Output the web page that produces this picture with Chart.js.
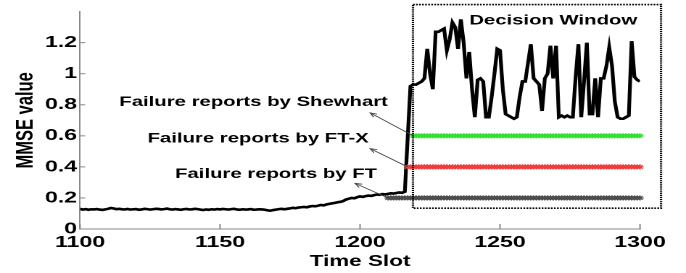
<!DOCTYPE html>
<html>
<head>
<meta charset="utf-8">
<script src="https://cdn.jsdelivr.net/npm/chart.js@4.4.0/dist/chart.umd.min.js"></script>
<style>
  body { margin: 0; background: #fff; overflow: hidden; }
  /* the original figure is stretched sideways, so draw narrow and widen it */
  #wrap { width: 473px; height: 273px; transform: scaleX(1.4503); transform-origin: 0 0; }
</style>
</head>
<body>
<div id="wrap"><canvas id="myChart" width="473" height="273"></canvas></div>
<script>
const firstSlot = 1100;
const mmse = [
  0.13,0.125,0.128,0.124,0.127,0.126,0.128,0.125,0.123,0.126,
  0.13,0.135,0.132,0.128,0.13,0.127,0.126,0.129,0.125,0.127,
  0.128,0.124,0.126,0.13,0.128,0.125,0.127,0.13,0.129,0.126,
  0.128,0.131,0.127,0.125,0.128,0.126,0.124,0.127,0.129,0.126,
  0.127,0.13,0.128,0.125,0.122,0.126,0.124,0.127,0.125,0.128,
  0.126,0.129,0.127,0.125,0.128,0.13,0.126,0.124,0.127,0.125,
  0.126,0.128,0.124,0.125,0.127,0.126,0.124,0.12,0.118,0.122,
  0.125,0.128,0.13,0.127,0.13,0.133,0.136,0.134,0.138,0.14,
  0.142,0.14,0.145,0.148,0.146,0.15,0.155,0.152,0.158,0.162,
  0.165,0.168,0.172,0.175,0.18,0.19,0.195,0.2,0.198,0.205,
  0.21,0.207,0.212,0.215,0.213,0.218,0.222,0.22,0.225,0.223,
  0.226,0.23,0.228,0.232,0.235,0.233,0.24,0.58,0.92,0.93,
  0.93,0.94,0.95,0.97,1.16,1.0,0.9,1.27,1.27,1.28,
  1.29,1.15,1.22,1.33,1.3,1.16,1.35,1.2,0.97,1.14,
  0.9,0.72,0.96,0.97,0.95,0.72,0.72,0.85,1.0,1.16,
  1.15,0.9,0.74,0.73,0.72,0.71,0.72,0.85,0.95,0.95,
  1.07,1.19,0.97,0.95,0.93,0.76,0.97,1.0,1.18,0.97,
  1.18,0.72,0.73,0.72,0.73,0.72,0.72,0.98,1.19,0.72,
  0.95,1.2,0.74,0.74,0.97,0.72,0.97,0.97,1.05,1.17,
  1.05,0.82,0.72,0.71,0.71,0.72,0.73,1.21,0.98,0.96,
  0.95
];
// failure reports: each method flags every slot from its first report on
const reportNames = ['FT', 'FT-X', 'Shewhart'];
const reportStart = [1210, 1217, 1219];
const reportLevel = [0.2, 0.4, 0.6];
const lastSlot = 1300;
const xTicks = [1100, 1150, 1200, 1250, 1300];
const yTicks = [0, 0.2, 0.4, 0.6, 0.8, 1, 1.2];

const reportColors = ['#4d4d4d', '#f03c3c', '#33e033'];

const labels = [
  { text: 'Failure reports by Shewhart', x: 1162, y: 0.793, fromX: 1219, fromY: 0.6, tipX: 1203.6, tipY: 0.748 },
  { text: 'Failure reports by FT-X', x: 1163.6, y: 0.556, fromX: 1217, fromY: 0.4, tipX: 1203.6, tipY: 0.518 },
  { text: 'Failure reports by FT', x: 1170, y: 0.329, fromX: 1210, fromY: 0.2, tipX: 1198.2, tipY: 0.294 }
];
const windowBox = { x1: 1218.9, x2: 1307.5, y1: 0.134, y2: 1.445, title: 'Decision Window', titleX: 1269, titleY: 1.317 };

const mmsePoints = mmse.map((v, i) => ({ x: firstSlot + i, y: v }));

const reportSets = reportNames.map((name, k) => {
  const pts = [];
  for (let t = reportStart[k]; t <= lastSlot; t++) pts.push({ x: t, y: reportLevel[k] });
  return {
    label: name,
    data: pts,
    showLine: false,
    pointStyle: 'star',
    pointRadius: 2.6,
    borderWidth: 1,
    borderColor: reportColors[k],
    backgroundColor: reportColors[k],
    clip: false
  };
});

const fontFam = '"Liberation Sans", Arial, sans-serif';

const overlay = {
  id: 'overlay',
  afterDraw(chart) {
    const { ctx, scales: { x, y } } = chart;
    ctx.save();
    // inward tick marks
    ctx.strokeStyle = '#888';
    ctx.lineWidth = 1;
    xTicks.forEach(v => {
      const px = x.getPixelForValue(v);
      ctx.beginPath(); ctx.moveTo(px, y.bottom); ctx.lineTo(px, y.bottom - 5); ctx.stroke();
    });
    yTicks.forEach(v => {
      const py = y.getPixelForValue(v);
      ctx.beginPath(); ctx.moveTo(x.left, py); ctx.lineTo(x.left + 3.5, py); ctx.stroke();
    });

    // decision window
    const bx1 = x.getPixelForValue(windowBox.x1), bx2 = x.getPixelForValue(windowBox.x2);
    const by1 = y.getPixelForValue(windowBox.y2), by2 = y.getPixelForValue(windowBox.y1);
    ctx.setLineDash([1.2, 0.9]);
    ctx.strokeStyle = '#000';
    ctx.lineWidth = 1.6;
    ctx.strokeRect(bx1, by1, bx2 - bx1, by2 - by1);
    ctx.setLineDash([]);
    ctx.fillStyle = '#000';
    ctx.font = 'bold 14px ' + fontFam;
    ctx.textAlign = 'center';
    ctx.textBaseline = 'alphabetic';
    ctx.fillText(windowBox.title, x.getPixelForValue(windowBox.titleX), y.getPixelForValue(windowBox.titleY));

    // labels with arrows
    labels.forEach(l => {
      ctx.font = 'bold 14px ' + fontFam;
      ctx.fillStyle = '#000';
      ctx.fillText(l.text, x.getPixelForValue(l.x), y.getPixelForValue(l.y));
      const x0 = x.getPixelForValue(l.fromX), y0 = y.getPixelForValue(l.fromY);
      const x1 = x.getPixelForValue(l.tipX), y1 = y.getPixelForValue(l.tipY);
      ctx.strokeStyle = '#444';
      ctx.lineWidth = 0.8;
      ctx.beginPath(); ctx.moveTo(x0, y0); ctx.lineTo(x1, y1); ctx.stroke();
      const a = Math.atan2(y1 - y0, x1 - x0);
      ctx.beginPath();
      ctx.moveTo(x1 - 5 * Math.cos(a - 0.4), y1 - 5 * Math.sin(a - 0.4));
      ctx.lineTo(x1, y1);
      ctx.lineTo(x1 - 5 * Math.cos(a + 0.4), y1 - 5 * Math.sin(a + 0.4));
      ctx.stroke();
    });
    ctx.restore();
  }
};

const ctx = document.getElementById('myChart');
new Chart(ctx, {
  type: 'line',
  data: {
    datasets: [
      ...reportSets,
      {
        label: 'MMSE',
        data: mmsePoints,
        borderColor: '#000',
        borderWidth: 2.6,
        pointRadius: 0,
        tension: 0,
        fill: false
      }
    ]
  },
  options: {
    responsive: false,
    animation: false,
    devicePixelRatio: 2,
    layout: { padding: { left: 0, right: 31.7, top: 10, bottom: 0 } },
    plugins: { legend: { display: false }, tooltip: { enabled: false } },
    scales: {
      x: {
        type: 'linear',
        min: 1100,
        max: 1300,
        afterBuildTicks: s => { s.ticks = xTicks.map(v => ({ value: v })); },
        afterFit: s => { s.height = 44; },
        grid: { display: false, drawTicks: false },
        border: { color: '#888', width: 1 },
        ticks: { color: '#000', padding: 4, maxRotation: 0, font: { family: fontFam, size: 16, weight: 'bold' }, callback: v => String(v) },
        title: { display: true, text: 'Time Slot', color: '#000', padding: { top: 0, bottom: 2 }, font: { family: fontFam, size: 15.5, weight: 'bold' } }
      },
      y: {
        min: 0,
        max: 1.4,
        afterBuildTicks: s => { s.ticks = yTicks.map(v => ({ value: v })); },
        afterFit: s => { s.width = 55.2; },
        grid: { display: false, drawTicks: false },
        border: { color: '#888', width: 1 },
        ticks: { color: '#000', padding: 2, font: { family: fontFam, size: 16, weight: 'bold' }, callback: v => String(v) },
        title: { display: true, text: 'MMSE value', color: '#000', padding: { top: 8, bottom: 0 }, font: { family: fontFam, size: 16.5, weight: 'bold' } }
      }
    }
  },
  plugins: [overlay]
});
</script>
</body>
</html>
